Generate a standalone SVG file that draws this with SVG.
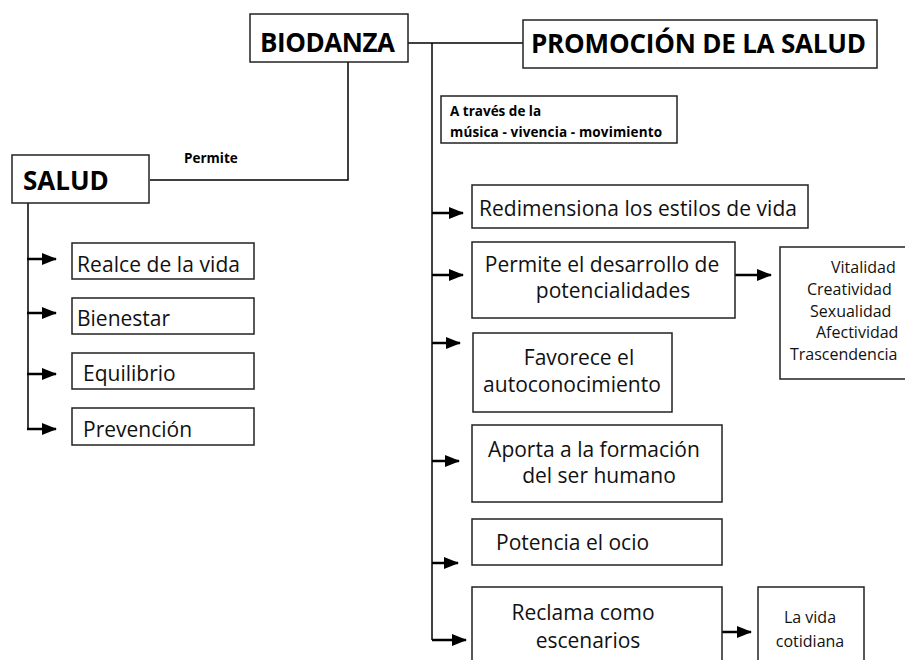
<svg xmlns="http://www.w3.org/2000/svg" width="905" height="660" viewBox="0 0 905 660">
<defs>
<marker id="ah" markerUnits="userSpaceOnUse" markerWidth="15" markerHeight="14" refX="14" refY="7" orient="auto" viewBox="0 0 15 14">
<path d="M0,1 L15,7 L0,13 Z" fill="#000"/>
</marker>
<style>
.box{fill:#fff;stroke:#222;stroke-width:1.5}
.ln{fill:none;stroke:#000;stroke-width:1.5}
.ar{fill:none;stroke:#000;stroke-width:2.5;marker-end:url(#ah)}
.big{font-family:"Open Sans","Liberation Sans",sans-serif;font-weight:bold;font-size:26px;fill:#000}
.sm{font-family:"Open Sans","Liberation Sans",sans-serif;font-weight:bold;font-size:13.5px;fill:#000}
.t{font-family:"Open Sans","Liberation Sans",sans-serif;font-size:21px;fill:#111}
.s{font-family:"Open Sans","Liberation Sans",sans-serif;font-size:16px;fill:#111}
</style>
</defs>
<g id="connectors">
<polyline class="ln" points="348,62 348,180 150,180"/>
<line class="ln" x1="408" y1="43" x2="523" y2="43"/>
<line class="ln" x1="432" y1="43" x2="432" y2="640"/>
<line class="ln" x1="28" y1="203" x2="28" y2="429"/>
<line class="ar" x1="27" y1="259" x2="56" y2="259"/>
<line class="ar" x1="27" y1="313" x2="56" y2="313"/>
<line class="ar" x1="27" y1="374" x2="56" y2="374"/>
<line class="ar" x1="27" y1="429" x2="56" y2="429"/>
<line class="ar" x1="432" y1="213" x2="463" y2="213"/>
<line class="ar" x1="432" y1="275" x2="463" y2="275"/>
<line class="ar" x1="735" y1="275" x2="771" y2="275"/>
<line class="ar" x1="432" y1="343" x2="460" y2="343"/>
<line class="ar" x1="432" y1="461" x2="459" y2="461"/>
<line class="ar" x1="432" y1="563" x2="458" y2="563"/>
<line class="ar" x1="432" y1="640" x2="466" y2="640"/>
<line class="ar" x1="722" y1="632" x2="751" y2="632"/>
<text class="sm" x="184" y="163">Permite</text>
</g>
<g id="biodanza"><rect class="box" x="250" y="14" width="158" height="48"/><text class="big" x="260" y="52" textLength="135">BIODANZA</text></g>
<g id="promocion"><rect class="box" x="523" y="20" width="354" height="48"/><text class="big" x="531" y="53" textLength="335">PROMOCIÓN DE LA SALUD</text></g>
<g id="salud"><rect class="box" x="12" y="155" width="137" height="48"/><text class="big" x="23" y="190">SALUD</text></g>
<g id="atraves"><rect class="box" x="441" y="96" width="236" height="47"/><text class="sm" x="450" y="116">A través de la</text><text class="sm" x="450" y="137" textLength="212">música - vivencia - movimiento</text></g>
<g id="realce"><rect class="box" x="72" y="243" width="182" height="36"/><text class="t" x="77" y="272" textLength="163">Realce de la vida</text></g>
<g id="bienestar"><rect class="box" x="72" y="298" width="182" height="36"/><text class="t" x="77" y="326">Bienestar</text></g>
<g id="equilibrio"><rect class="box" x="72" y="353" width="182" height="36"/><text class="t" x="83" y="381">Equilibrio</text></g>
<g id="prevencion"><rect class="box" x="72" y="408" width="182" height="37"/><text class="t" x="83" y="437">Prevención</text></g>
<g id="redimensiona"><rect class="box" x="472" y="185" width="336" height="43"/><text class="t" x="479" y="216" textLength="318">Redimensiona los estilos de vida</text></g>
<g id="permite"><rect class="box" x="472" y="242" width="263" height="76"/><text class="t" x="602" y="272" text-anchor="middle">Permite el desarrollo de</text><text class="t" x="613" y="298" text-anchor="middle">potencialidades</text></g>
<g id="cualidades"><rect class="box" x="780" y="247" width="135" height="132"/>
<text class="s" x="831" y="273">Vitalidad</text><text class="s" x="807" y="295">Creatividad</text><text class="s" x="810" y="317">Sexualidad</text><text class="s" x="816" y="338">Afectividad</text><text class="s" x="790" y="360">Trascendencia</text></g>
<g id="favorece"><rect class="box" x="473" y="333" width="199" height="79"/><text class="t" x="579" y="365" text-anchor="middle">Favorece el</text><text class="t" x="572" y="392" text-anchor="middle">autoconocimiento</text></g>
<g id="aporta"><rect class="box" x="472" y="425" width="250" height="77"/><text class="t" x="594" y="457" text-anchor="middle">Aporta a la formación</text><text class="t" x="599" y="483" text-anchor="middle">del ser humano</text></g>
<g id="potencia"><rect class="box" x="472" y="519" width="250" height="46"/><text class="t" x="496" y="550">Potencia el ocio</text></g>
<g id="reclama"><rect class="box" x="472" y="587" width="250" height="80"/><text class="t" x="583" y="620" text-anchor="middle">Reclama como</text><text class="t" x="588" y="648" text-anchor="middle">escenarios</text></g>
<g id="vidacotidiana"><rect class="box" x="758" y="587" width="106" height="80"/><text class="s" x="810" y="623" text-anchor="middle">La vida</text><text class="s" x="810" y="647" text-anchor="middle">cotidiana</text></g>
</svg>
